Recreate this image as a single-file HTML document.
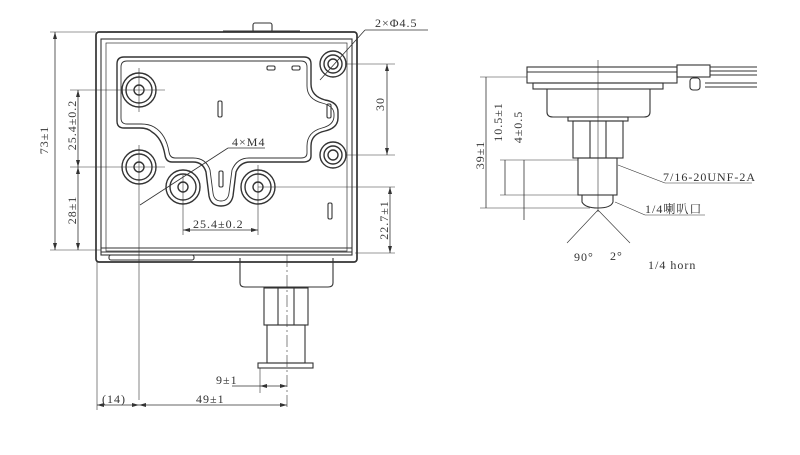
<!DOCTYPE html>
<html><head><meta charset="utf-8"><style>
html,body{margin:0;padding:0;background:#fff;width:800px;height:455px;overflow:hidden}
svg{display:block}
text{font-family:"Liberation Serif","Noto Serif CJK SC",serif;fill:#333;font-size:12px;letter-spacing:1px}
</style></head><body>
<svg width="800" height="455" viewBox="0 0 800 455" xmlns="http://www.w3.org/2000/svg">
<g fill="none" stroke="#333" stroke-width="1.1">
<rect x="96" y="32" width="261" height="230" rx="3" stroke-width="1.7"/>
<rect x="101" y="39" width="251" height="216"/>
<rect x="106" y="43" width="241" height="208" stroke-width="0.7"/>
<rect x="253" y="23" width="19" height="9" rx="2"/>
<line x1="223" y1="31" x2="300" y2="31"/>
<path d="M124 57 H304 Q311 57 311 64 V84 Q311 96 325 100 Q338 102 338 112 V118 Q338 128 325 131 Q311 134 311 146 V156 Q311 162 303 162 H250 Q240 162 236 172 L233 196 Q231 206 221 206 Q211 206 209 196 L206 172 Q203 162 193 162 H172 Q166 162 165 155 Q162 138 152 132 Q148 128 140 128 H124 Q117 128 117 121 V64 Q117 57 124 57 Z" stroke-width="1.4"/>
<path d="M127 61 H301 Q307 61 307 67 V86 Q307 99 322 103 Q334 106 334 114 V116 Q334 125 322 128 Q307 132 307 146 V153 Q307 158 301 158 H249 Q237 158 232 170 L229 193 Q228 201 221 201 Q214 201 213 193 L210 170 Q206 158 193 158 H175 Q170 158 169 152 Q166 134 154 127 Q149 124 141 124 H127 Q121 124 121 118 V67 Q121 61 127 61 Z" stroke-width="0.9"/>
<g stroke-width="1.4">
<circle cx="139" cy="90" r="17"/><circle cx="139" cy="90" r="13"/><circle cx="139" cy="90" r="5"/>
<circle cx="139" cy="167" r="17"/><circle cx="139" cy="167" r="13"/><circle cx="139" cy="167" r="5"/>
<circle cx="183" cy="187" r="17"/><circle cx="183" cy="187" r="13"/><circle cx="183" cy="187" r="5"/>
<circle cx="258" cy="187" r="17"/><circle cx="258" cy="187" r="13"/><circle cx="258" cy="187" r="5"/>
<circle cx="333" cy="64" r="13"/><circle cx="333" cy="64" r="9"/><circle cx="333" cy="64" r="5"/>
<circle cx="333" cy="155" r="13"/><circle cx="333" cy="155" r="9"/><circle cx="333" cy="155" r="5"/>
</g>
<rect x="267" y="66" width="8" height="4" rx="1.5"/><rect x="292" y="66" width="8" height="4" rx="1.5"/>
<rect x="218" y="101" width="4" height="16" rx="1.5"/><rect x="327" y="104" width="4" height="14" rx="1.5"/>
<rect x="219" y="171" width="4" height="16" rx="1.5"/><rect x="328" y="203" width="4" height="16" rx="1.5"/>
<line x1="101" y1="248" x2="352" y2="248"/><line x1="101" y1="252" x2="352" y2="252"/>
<rect x="109" y="255" width="85" height="5" rx="2"/>
<path d="M240 258 V283 Q240 287 245 287 H328 Q333 287 333 283 V258"/>
<rect x="264" y="288" width="44" height="37"/>
<line x1="278" y1="288" x2="278" y2="325"/><line x1="294" y1="288" x2="294" y2="325"/>
<rect x="267" y="325" width="38" height="38"/>
<rect x="258" y="363" width="55" height="5"/>
<line x1="287" y1="255" x2="287" y2="410" stroke-width="0.6" stroke-dasharray="12 3 2 3"/>
<g stroke-width="0.6">
<line x1="115" y1="90" x2="165" y2="90"/><line x1="139" y1="68" x2="139" y2="112"/>
<line x1="70" y1="167" x2="165" y2="167"/><line x1="139" y1="145" x2="139" y2="400"/>
<line x1="70" y1="90" x2="115" y2="90"/>
<line x1="183" y1="175" x2="183" y2="235"/><line x1="258" y1="165" x2="258" y2="235"/>
<line x1="258" y1="187" x2="395" y2="187"/>
<line x1="345" y1="64" x2="395" y2="64"/><line x1="345" y1="155" x2="395" y2="155"/>
<line x1="355" y1="253" x2="395" y2="253"/>
<line x1="50" y1="32" x2="96" y2="32"/><line x1="50" y1="250" x2="101" y2="250"/>
<line x1="97" y1="262" x2="97" y2="410"/><line x1="260" y1="368" x2="260" y2="393"/>
</g>
<g stroke-width="0.8">
<line x1="55" y1="32" x2="55" y2="250"/>
<line x1="78" y1="90" x2="78" y2="250"/>
<line x1="387" y1="64" x2="387" y2="155"/>
<line x1="390" y1="187" x2="390" y2="253"/>
<line x1="183" y1="230" x2="258" y2="230"/>
<line x1="140" y1="205" x2="228" y2="148"/><line x1="228" y1="148" x2="265" y2="148"/>
<line x1="320" y1="80" x2="365" y2="30"/><line x1="365" y1="30" x2="428" y2="30"/>
<line x1="232" y1="386" x2="287" y2="386"/>
<line x1="97" y1="405" x2="287" y2="405"/>
</g>
</g>
<g fill="#333">
<path d="M55 32 l-2 7 h4z M55 250 l-2 -7 h4z M78 90 l-2 7 h4z M78 167 l-2 -7 h4z M78 167 l-2 7 h4z M78 250 l-2 -7 h4z M387 64 l-2 7 h4z M387 155 l-2 -7 h4z M390 187 l-2 7 h4z M390 253 l-2 -7 h4z M183 230 l7 -2 v4z M258 230 l-7 -2 v4z M260 386 l7 -2 v4z M287 386 l-7 -2 v4z M139 405 l7 -2 v4z M287 405 l-7 -2 v4z M97 405 l7 -2 v4z M139 405 l-7 -2 v4z"/>
</g>
<text transform="translate(48,140) rotate(-90)" text-anchor="middle">73±1</text>
<text transform="translate(76,125) rotate(-90)" text-anchor="middle">25.4±0.2</text>
<text transform="translate(76,210) rotate(-90)" text-anchor="middle">28±1</text>
<text transform="translate(384,104) rotate(-90)" text-anchor="middle">30</text>
<text transform="translate(388,220) rotate(-90)" text-anchor="middle">22.7±1</text>
<text x="193" y="228">25.4±0.2</text>
<text x="232" y="146">4×M4</text>
<text x="375" y="27">2×Φ4.5</text>
<text x="216" y="384">9±1</text>
<text x="196" y="403">49±1</text>
<text x="102" y="403">(14)</text>
<g fill="none" stroke="#333" stroke-width="1.1">
<rect x="527" y="67" width="150" height="16"/>
<line x1="527" y1="72" x2="677" y2="72"/>
<rect x="677" y="65" width="33" height="12"/>
<line x1="710" y1="67" x2="757" y2="67"/><line x1="710" y1="71" x2="757" y2="71"/><line x1="710" y1="75" x2="757" y2="75"/>
<line x1="705" y1="83" x2="757" y2="83"/><line x1="705" y1="87" x2="757" y2="87"/>
<rect x="690" y="78" width="10" height="12" rx="3"/>
<rect x="533" y="83" width="130" height="6"/>
<path d="M547 89 V112 Q547 117 553 117 H644 Q650 117 650 112 V89"/>
<rect x="568" y="117" width="60" height="4"/>
<rect x="573" y="121" width="50" height="37"/>
<line x1="590" y1="121" x2="590" y2="158"/><line x1="606" y1="121" x2="606" y2="158"/>
<rect x="578" y="158" width="39" height="37"/>
<path d="M582 195 V202 Q585 208 598 208 Q611 208 613 202 V195"/>
<g stroke-width="0.6">
<line x1="598" y1="60" x2="598" y2="212"/>
<line x1="480" y1="77" x2="527" y2="77"/><line x1="480" y1="208" x2="590" y2="208"/>
<line x1="500" y1="160" x2="578" y2="160"/><line x1="500" y1="195" x2="582" y2="195"/>
<line x1="598" y1="210" x2="567" y2="243"/><line x1="598" y1="210" x2="630" y2="243"/>
<line x1="618" y1="165" x2="665" y2="183"/><line x1="665" y1="183" x2="752" y2="183"/>
<line x1="615" y1="202" x2="645" y2="215"/><line x1="645" y1="215" x2="705" y2="215"/>
</g>
<g stroke-width="0.8">
<line x1="486" y1="77" x2="486" y2="208"/>
<line x1="505" y1="160" x2="505" y2="195"/>
<line x1="524" y1="160" x2="524" y2="220"/>
</g>
</g>
<text transform="translate(484,155) rotate(-90)" text-anchor="middle">39±1</text>
<text transform="translate(502,122) rotate(-90)" text-anchor="middle">10.5±1</text>
<text transform="translate(522,127) rotate(-90)" text-anchor="middle">4±0.5</text>
<text x="663" y="181">7/16-20UNF-2A</text>
<text x="645" y="213">1/4喇叭口</text>
<text x="574" y="261">90°</text>
<text x="610" y="260" font-size="8">2°</text>
<text x="648" y="269">1/4 horn</text>
</svg>
</body></html>
